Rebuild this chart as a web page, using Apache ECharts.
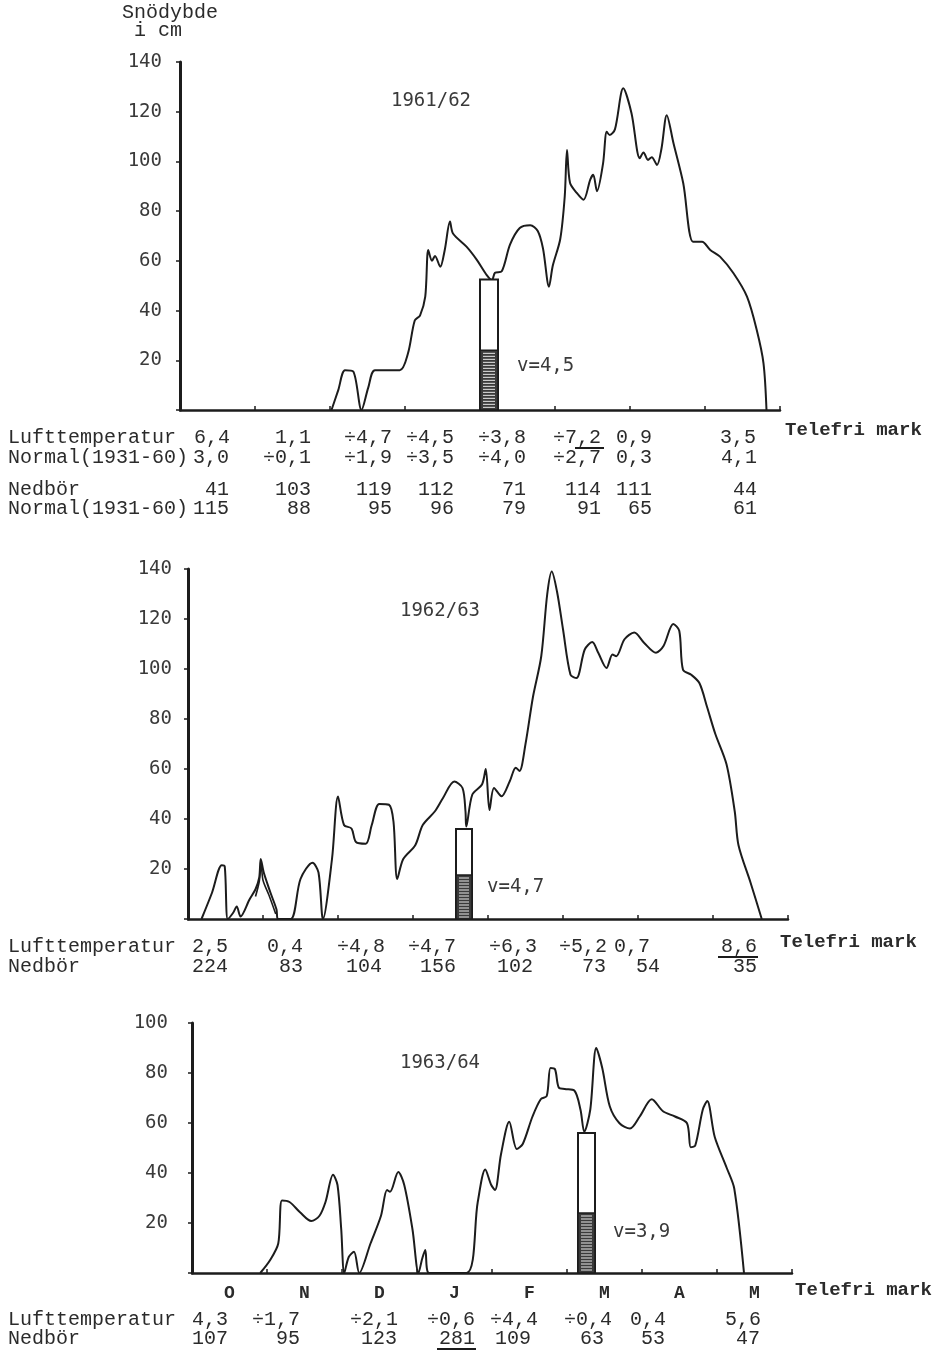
<!DOCTYPE html>
<html>
<head>
<meta charset="utf-8">
<title>Snödybde 1961–1964</title>
<script src="https://cdn.jsdelivr.net/npm/echarts@6/dist/echarts.min.js"></script>
<style>
  html, body { margin: 0; padding: 0; background: #ffffff; }
  #chart { width: 945px; height: 1356px; }
</style>
</head>
<body>
<div id="chart"></div>
<script>
// Snow depth (cm) against season time; x = months after 1 October (0 = Oct 1, 8 = Jun 1)
const months = ['O', 'N', 'D', 'J', 'F', 'M', 'A', 'M'];

const snow6162 = [
  [2.02, 0], [2.11, 8], [2.2, 16], [2.31, 15.5], [2.42, 0], [2.51, 9], [2.6, 16],
  [2.93, 16], [3.04, 22.8], [3.13, 36], [3.2, 38], [3.27, 45.6], [3.31, 64.4],
  [3.36, 60], [3.4, 62], [3.47, 57.6], [3.53, 64.4], [3.6, 75.8], [3.64, 71],
  [3.82, 65.7], [3.96, 60.3], [4.09, 54.3], [4.16, 52.3], [4.2, 55.2], [4.29, 55.8],
  [4.4, 66.5], [4.53, 73.2], [4.67, 74.3], [4.77, 72], [4.84, 65], [4.92, 49.6],
  [4.97, 58], [5.07, 68.8], [5.13, 86], [5.16, 104.6], [5.2, 91.4], [5.29, 87.3],
  [5.38, 84.6], [5.47, 92.7], [5.51, 94.6], [5.56, 88], [5.64, 99], [5.69, 111.9],
  [5.73, 110.6], [5.8, 113], [5.91, 129.4], [6.02, 119.4], [6.13, 101.3], [6.18, 103.6],
  [6.24, 100.6], [6.29, 101.7], [6.36, 98.6], [6.42, 105.2], [6.49, 118.6], [6.58, 107.3],
  [6.71, 91.2], [6.84, 67.7], [6.96, 67.7], [7.07, 64.4], [7.2, 61.7], [7.38, 55],
  [7.56, 45.6], [7.69, 32.2], [7.78, 18.8], [7.82, 0]
];

const snow6263 = [
  [0.18, 0], [0.32, 10.5], [0.45, 21.5], [0.49, 21], [0.53, 0], [0.6, 2.4], [0.65, 5],
  [0.7, 1], [0.82, 7.8], [0.9, 11.9], [0.95, 16.6], [0.97, 24], [1.01, 18.6],
  [1.1, 10.5], [1.18, 3.8], [1.2, 0], [1.37, 0], [1.5, 16], [1.66, 22.5], [1.74, 18.6],
  [1.8, 0], [1.92, 24], [2.0, 49], [2.08, 37.6], [2.18, 36.2], [2.24, 30.8], [2.37, 30.1],
  [2.45, 37.6], [2.55, 46], [2.68, 45.7], [2.74, 38.9], [2.79, 16], [2.87, 24],
  [3.03, 29.5], [3.13, 37.6], [3.29, 43], [3.4, 48.4], [3.55, 55], [3.66, 52.4],
  [3.7, 43], [3.71, 37], [3.79, 49.7], [3.92, 53.8], [3.97, 60], [4.02, 43.6],
  [4.08, 52.4], [4.18, 49.1], [4.29, 55.1], [4.37, 60.5], [4.42, 59.2], [4.5, 70],
  [4.6, 88.9], [4.71, 105.1], [4.79, 130], [4.85, 139], [4.92, 131], [5.0, 115.9],
  [5.1, 97.7], [5.18, 96.4], [5.29, 107.8], [5.39, 110.8], [5.47, 106.5], [5.58, 100.4],
  [5.66, 105.8], [5.71, 105.1], [5.82, 111.9], [5.95, 114.6], [6.08, 110.5], [6.24, 106.5],
  [6.34, 109.2], [6.47, 118], [6.55, 115.3], [6.6, 99.7], [6.71, 97.7], [6.82, 94.3],
  [6.92, 84.9], [7.03, 74.1], [7.18, 61.9], [7.29, 43], [7.34, 29.5], [7.5, 14.6],
  [7.65, 0]
];
// second, inner stroke of the early-November peak (drawn twice in the record)
const snow6263Inner = [[0.9, 9], [0.95, 15], [0.975, 22], [1.0, 15.5], [1.08, 9.5], [1.17, 2]];

const snow6364 = [
  [0.91, 0], [1.04, 5.1], [1.15, 11.8], [1.2, 29], [1.3, 28.4], [1.44, 24.3],
  [1.59, 20.8], [1.7, 22.9], [1.78, 28.4], [1.88, 39.3], [1.94, 35.2], [1.99, 17.4],
  [2.03, 0], [2.09, 6.4], [2.16, 8.5], [2.23, 0], [2.38, 11.8], [2.52, 22.9],
  [2.6, 33.2], [2.64, 32.5], [2.75, 40.4], [2.83, 35.2], [2.94, 17.4], [3.02, 0],
  [3.07, 5.8], [3.11, 9.2], [3.16, 0], [3.66, 0], [3.81, 28.4], [3.91, 41.4],
  [3.99, 35.2], [4.04, 33.2], [4.12, 47.5], [4.23, 60.5], [4.33, 49.6], [4.41, 51.6],
  [4.54, 62.6], [4.65, 69.5], [4.73, 70.8], [4.78, 82], [4.84, 81.5], [4.89, 74.2],
  [4.97, 73.6], [5.1, 72.9], [5.18, 65.3], [5.23, 56.5], [5.31, 65.3], [5.39, 90],
  [5.47, 82], [5.57, 66.7], [5.7, 59.9], [5.84, 57.8], [5.97, 62.6], [6.13, 69.5],
  [6.28, 64.7], [6.44, 62.6], [6.6, 59.9], [6.65, 50.3], [6.71, 51], [6.81, 65.3],
  [6.87, 68.8], [6.97, 54.4], [7.13, 42], [7.23, 33.8], [7.36, 0]
];

// Snow-sample column per season: [time, total depth, lower (hatched) part]
const column6162 = [[4.12, 52.5, 24]];
const column6263 = [[3.68, 36, 17.6]];
const column6364 = [[5.26, 56, 24]];
const densityLabels = ['v=4,5', 'v=4,7', 'v=3,9'];
const seasons = ['1961/62', '1962/63', '1963/64'];

// Monthly tables
const temp6162 = ['6,4', '1,1', '÷4,7', '÷4,5', '÷3,8', '÷7,2', '0,9', '3,5'];
const normTemp = ['3,0', '÷0,1', '÷1,9', '÷3,5', '÷4,0', '÷2,7', '0,3', '4,1'];
const prec6162 = ['41', '103', '119', '112', '71', '114', '111', '44'];
const normPrec = ['115', '88', '95', '96', '79', '91', '65', '61'];
const temp6263 = ['2,5', '0,4', '÷4,8', '÷4,7', '÷6,3', '÷5,2', '0,7', '8,6'];
const prec6263 = ['224', '83', '104', '156', '102', '73', '54', '35'];
const temp6364 = ['4,3', '÷1,7', '÷2,1', '÷0,6', '÷4,4', '÷0,4', '0,4', '5,6'];
const prec6364 = ['107', '95', '123', '281', '109', '63', '53', '47'];

const INK = '#1c1c1c';
const TEXT = '#2b2b2b';
const MONO = '"Liberation Mono", "DejaVu Sans Mono", monospace';
const GOTHIC = '"DejaVu Sans Mono", "Liberation Mono", monospace';

const chart = echarts.init(document.getElementById('chart'), null, { renderer: 'canvas' });

function xAxisFor(gi) {
  return {
    type: 'value', gridIndex: gi, min: 0, max: 8, interval: 1,
    axisLine: { show: true, lineStyle: { color: INK, width: 2.5 } },
    axisTick: { show: true, inside: true, length: 4, lineStyle: { color: INK, width: 1.5 } },
    axisLabel: { show: false }, splitLine: { show: false }
  };
}
function yAxisFor(gi, max, margin) {
  return {
    type: 'value', gridIndex: gi, min: 0, max: max, interval: 20,
    axisLine: { show: true, lineStyle: { color: INK, width: 3 } },
    axisTick: { show: true, length: 4, lineStyle: { color: INK, width: 1.5 } },
    splitLine: { show: false },
    axisLabel: {
      margin: margin, color: '#3a3a3a', fontFamily: GOTHIC, fontSize: 19,
      formatter: v => (v === 0 ? '' : String(v))
    }
  };
}
function curve(data, gi, width) {
  return {
    type: 'line', xAxisIndex: gi, yAxisIndex: gi, data: data,
    symbol: 'none', smooth: 0.3, clip: false, z: 3,
    lineStyle: { color: INK, width: width || 2 }
  };
}
function column(data, gi, w) {
  return {
    type: 'custom', xAxisIndex: gi, yAxisIndex: gi, data: data, z: 5,
    renderItem: function (params, api) {
      const t = api.value(0);
      const pTop = api.coord([t, api.value(1)]);
      const pHat = api.coord([t, api.value(2)]);
      const p0 = api.coord([t, 0]);
      const left = pTop[0] - w / 2;
      const children = [
        { type: 'rect', shape: { x: left, y: pTop[1], width: w, height: p0[1] - pTop[1] },
          style: { fill: '#fff', stroke: INK, lineWidth: 2 } },
        { type: 'rect', shape: { x: left, y: pHat[1], width: w, height: p0[1] - pHat[1] },
          style: { fill: '#3a3a3a', stroke: INK, lineWidth: 1.5 } }
      ];
      for (let y = pHat[1] + 3; y < p0[1] - 1; y += 3) {
        children.push({ type: 'line', shape: { x1: left + 3, y1: y, x2: left + w - 3, y2: y },
          style: { stroke: '#e8e8e8', lineWidth: 1 } });
      }
      return { type: 'group', children: children };
    }
  };
}

// Plain text helpers
function txt(text, x, y, opts) {
  opts = opts || {};
  return {
    type: 'text', x: x, y: y, silent: true,
    style: {
      text: text, fill: opts.fill || TEXT,
      font: (opts.weight || 'normal') + ' ' + (opts.size || 20) + 'px ' + (opts.family || MONO),
      textAlign: opts.align || 'left', textVerticalAlign: 'middle'
    }
  };
}
function row(label, values, rights, y) {
  const out = [];
  if (label) out.push(txt(label, 8, y));
  values.forEach((v, i) => out.push(txt(v, rights[i], y, { align: 'right' })));
  return out;
}
function hline(x1, x2, y, w) {
  return { type: 'line', silent: true, shape: { x1: x1, y1: y, x2: x2, y2: y },
    style: { stroke: INK, lineWidth: w || 1.5 } };
}

const rTop = [230, 311, 392, 454, 526, 601, 652, 756];
const rTop2 = [229, 311, 392, 454, 526, 601, 652, 757];
const rMidT = [228, 303, 385, 456, 537, 607, 650, 757];
const rMidP = [228, 303, 382, 456, 533, 606, 660, 757];
const rBotT = [228, 300, 398, 475, 538, 612, 666, 761];
const rBotP = [228, 300, 397, 475, 531, 604, 665, 760];

const graphics = [].concat(
  [txt('Snödybde', 122, 13), txt('i cm', 134, 31)],
  [txt(seasons[0], 431, 101, { align: 'center', family: GOTHIC, size: 19, fill: '#3a3a3a' }),
   txt(seasons[1], 440, 611, { align: 'center', family: GOTHIC, size: 19, fill: '#3a3a3a' }),
   txt(seasons[2], 440, 1063, { align: 'center', family: GOTHIC, size: 19, fill: '#3a3a3a' })],
  [txt(densityLabels[0], 517, 366, { family: GOTHIC, size: 19, fill: '#3a3a3a' }),
   txt(densityLabels[1], 487, 887, { family: GOTHIC, size: 19, fill: '#3a3a3a' }),
   txt(densityLabels[2], 613, 1232, { family: GOTHIC, size: 19, fill: '#3a3a3a' })],
  [txt('Telefri mark', 785, 430, { weight: 'bold', size: 19 }),
   txt('Telefri mark', 780, 942, { weight: 'bold', size: 19 }),
   txt('Telefri mark', 795, 1290, { weight: 'bold', size: 19 })],
  row('Lufttemperatur', temp6162, rTop, 438),
  row('Normal(1931-60)', normTemp, rTop2, 458),
  row('Nedbör', prec6162, rTop2, 490),
  row('Normal(1931-60)', normPrec, rTop2, 509),
  [hline(575, 604, 448, 2)],
  row('Lufttemperatur', temp6263, rMidT, 947),
  row('Nedbör', prec6263, rMidP, 967),
  [hline(718, 758, 957, 2.2)],
  row('Lufttemperatur', temp6364, rBotT, 1320),
  row('Nedbör', prec6364, rBotP, 1339),
  [hline(437, 476, 1349, 2)]
);

chart.setOption({
  backgroundColor: '#ffffff',
  animation: false,
  grid: [
    { left: 180, top: 62, width: 600, height: 348 },
    { left: 188, top: 569, width: 600, height: 350 },
    { left: 192, top: 1023, width: 600, height: 250 }
  ],
  xAxis: [
    xAxisFor(0), xAxisFor(1), xAxisFor(2),
    {
      type: 'category', gridIndex: 2, data: months, boundaryGap: true, position: 'bottom',
      axisLine: { show: false }, axisTick: { show: false }, splitLine: { show: false },
      axisLabel: { color: TEXT, fontFamily: MONO, fontWeight: 'bold', fontSize: 18, margin: 11 }
    }
  ],
  yAxis: [yAxisFor(0, 140, 18), yAxisFor(1, 140, 16), yAxisFor(2, 100, 24)],
  series: [
    curve(snow6162, 0), curve(snow6263, 1), curve(snow6263Inner, 1, 1.6), curve(snow6364, 2),
    column(column6162, 0, 18), column(column6263, 1, 16), column(column6364, 2, 17)
  ],
  graphic: graphics
});
</script>
</body>
</html>
